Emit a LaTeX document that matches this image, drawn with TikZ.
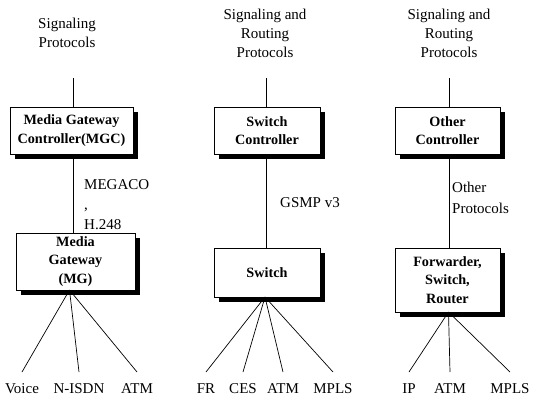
\documentclass[tikz,border=0pt]{standalone}
\usepackage{fontspec}
\setmainfont{Liberation Serif}
\usetikzlibrary{shadows,calc}
\begin{document}
\begin{tikzpicture}[x=1pt,y=-1pt,
  head/.style={font=\fontsize{15}{19}\selectfont, align=center, inner sep=0pt},
  side/.style={font=\fontsize{15}{20}\selectfont, align=left, anchor=west, inner sep=0pt},
  leaf/.style={font=\fontsize{15}{18}\selectfont, anchor=base, text height=11pt, text depth=3pt,
               inner xsep=0pt, inner ysep=10pt, outer sep=0pt},
  unit/.style={draw, line width=0.9pt, fill=white, align=center, inner sep=0pt, outer sep=0pt,
               font=\bfseries\fontsize{14.2}{18.5}\selectfont,
               drop shadow={shadow xshift=4.5pt, shadow yshift=-4.5pt, fill=black, opacity=1}},
  link/.style={line width=0.7pt}]
\useasboundingbox (0,0) rectangle (542,400);

% protocol headings
\node[head] (h1) at (67,33) {Signaling\\Protocols};
\node[head] (h2) at (265,33) {Signaling and\\Routing\\Protocols};
\node[head] (h3) at (449,33) {Signaling and\\Routing\\Protocols};
\coordinate (t1) at (73,78);
\coordinate (t2) at (266,78);
\coordinate (t3) at (449,78);

% controllers
\node[unit, minimum width=123pt, minimum height=47pt] (mgc) at (71.5,130.5) {Media Gateway\\Controller(MGC)};
\node[unit, minimum width=106pt, minimum height=47pt] (sc) at (267,130.5) {Switch\\Controller};
\node[unit, minimum width=105pt, minimum height=47pt] (oc) at (447.5,130.5) {Other\\Controller};

% forwarding elements
\node[unit, minimum width=119pt, minimum height=57pt] (mg) at (75.5,261.5) {Media\\Gateway\\(MG)};
\node[unit, minimum width=106pt, minimum height=49pt] (sw) at (267,272.5) {Switch};
\node[unit, minimum width=105pt, minimum height=64pt] (fw) at (447.5,280) {Forwarder,\\Switch,\\Router};

% control protocol labels
\node[side] (p1) at (84,205) {MEGACO\\,\\H.248};
\node[side] (p2) at (280,203) {GSMP v3};
\node[side, font=\fontsize{15}{21}\selectfont] (p3) at (452,198) {Other\\Protocols};

% vertical links
\draw[link] (t1) -- (t1 |- mgc.north);
\draw[link] (t2) -- (t2 |- sc.north);
\draw[link] (t3) -- (t3 |- oc.north);
\draw[link] (mgc.south -| t1) -- (mg.north -| t1);
\draw[link] (sc.south -| t2) -- (sw.north -| t2);
\draw[link] (oc.south -| t3) -- (fw.north -| t3);

% interfaces
\node[leaf] (l1) at (22,393) {Voice};
\node[leaf] (l2) at (79,393) {N-ISDN};
\node[leaf] (l3) at (137,393) {ATM};
\node[leaf] (l4) at (206,393) {FR};
\node[leaf] (l5) at (243,393) {CES};
\node[leaf] (l6) at (283,393) {ATM};
\node[leaf] (l7) at (333,393) {MPLS};
\node[leaf] (l8) at (409,393) {IP};
\node[leaf] (l9) at (450,393) {ATM};
\node[leaf] (l10) at (510,393) {MPLS};

\coordinate (f1) at ($(mg.south)+(-6,0)$);
\coordinate (f2) at ($(sw.south)+(-2,0)$);
\coordinate (f3) at ($(fw.south)+(1,0)$);
\foreach \n in {l1,l2,l3} \draw[link] (f1) -- (\n.north);
\foreach \n in {l4,l5,l6,l7} \draw[link] (f2) -- (\n.north);
\foreach \n in {l8,l9,l10} \draw[link] (f3) -- (\n.north);
\end{tikzpicture}
\end{document}
